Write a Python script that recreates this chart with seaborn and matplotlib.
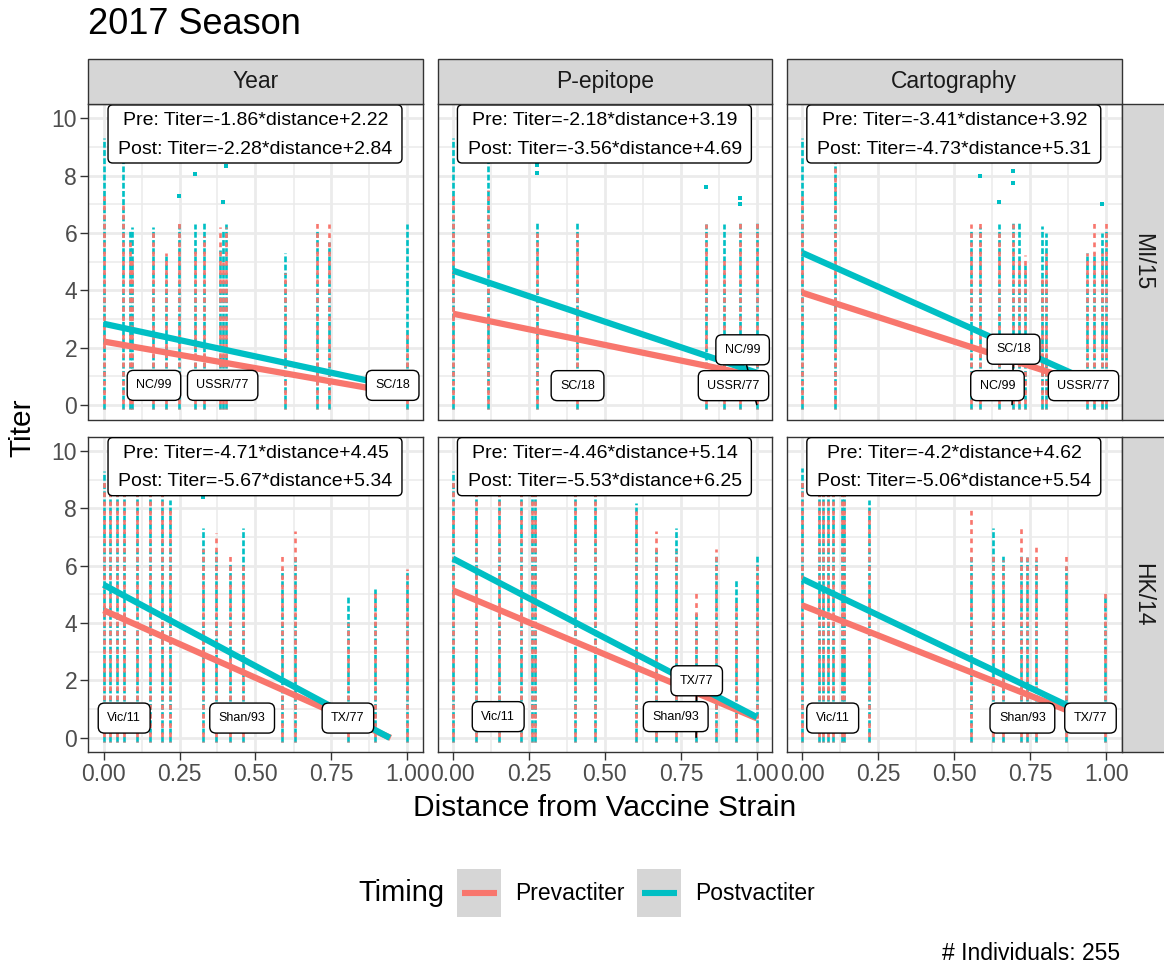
import numpy as np
import pandas as pd
import matplotlib
matplotlib.use("Agg")
import matplotlib.pyplot as plt
import seaborn as sns
from matplotlib.patches import Rectangle, FancyBboxPatch

# ---------------- data ----------------
measures = ["Year", "P-epitope", "Cartography"]
vaccines = ["MI/15", "HK/14"]
timing_levels = ["Prevactiter", "Postvactiter"]

# regression coefficients printed in each panel (row-major: MI/15 row, HK/14 row)
pre_slope = [-1.86, -2.18, -3.41, -4.71, -4.46, -4.2]
pre_int = [2.22, 3.19, 3.92, 4.45, 5.14, 4.62]
post_slope = [-2.28, -3.56, -4.73, -5.67, -5.53, -5.06]
post_int = [2.84, 4.69, 5.31, 5.34, 6.25, 5.54]

# titer columns: distance of each tested strain, highest pre / post titer
yr_mi_x = [0.00, 0.064, 0.086, 0.095, 0.163, 0.207, 0.248, 0.301, 0.330, 0.382, 0.393, 0.402, 0.598, 0.703, 0.742, 1.00]
yr_mi_pre = [7.4, 7.0, 5.8, 5.2, 6.1, 5.3, 6.4, 5.5, 5.9, 6.2, 5.0, 6.2, 4.6, 6.4, 6.3, 2.5]
yr_mi_post = [9.3, 10.0, 6.1, 6.2, 6.2, 5.2, 6.3, 6.3, 6.4, 5.4, 6.1, 6.3, 5.3, 6.1, 5.7, 6.3]

pe_mi_x = [0.00, 0.114, 0.278, 0.407, 0.833, 0.891, 0.946, 1.00]
pe_mi_pre = [7.4, 7.5, 6.0, 6.0, 6.3, 5.2, 6.4, 6.4]
pe_mi_post = [9.3, 10.0, 6.4, 6.4, 6.3, 6.3, 6.4, 6.4]

ca_mi_x = [0.00, 0.107, 0.556, 0.584, 0.646, 0.694, 0.712, 0.734, 0.789, 0.802, 0.937, 0.958, 0.986, 1.00]
ca_mi_pre = [7.3, 10.0, 6.3, 6.35, 6.0, 6.3, 5.2, 5.25, 4.4, 5.3, 5.3, 6.4, 5.3, 6.35]
ca_mi_post = [9.3, 9.0, 6.1, 6.2, 6.3, 6.4, 6.35, 4.9, 6.25, 6.0, 5.3, 5.3, 6.0, 6.1]

yr_hk_x = [0.00, 0.022, 0.044, 0.066, 0.109, 0.153, 0.194, 0.219, 0.327, 0.371, 0.415, 0.458, 0.588, 0.631, 0.803, 0.892, 1.00]
yr_hk_pre = [9.0, 9.5, 9.5, 9.5, 9.0, 9.5, 9.5, 8.0, 6.6, 7.15, 6.4, 6.0, 6.4, 7.2, 4.0, 5.2, 5.9]
yr_hk_post = [9.3, 9.5, 9.5, 9.5, 9.5, 9.5, 9.0, 8.3, 7.3, 6.5, 6.1, 7.3, 5.9, 6.3, 4.9, 5.2, 5.8]

pe_hk_x = [0.00, 0.075, 0.15, 0.223, 0.259, 0.27, 0.402, 0.467, 0.601, 0.669, 0.734, 0.80, 0.866, 0.932, 1.00]
pe_hk_pre = [9.0, 9.5, 9.5, 9.5, 9.5, 9.5, 9.5, 9.5, 7.9, 7.2, 6.5, 5.2, 6.6, 4.8, 6.0]
pe_hk_post = [9.3, 9.5, 9.5, 9.5, 9.5, 9.5, 9.5, 9.5, 8.2, 6.6, 7.3, 4.4, 6.4, 5.5, 6.4]

ca_hk_x = [0.00, 0.056, 0.069, 0.083, 0.10, 0.129, 0.138, 0.22, 0.556, 0.628, 0.661, 0.721, 0.74, 0.77, 0.869, 0.997]
ca_hk_pre = [9.0, 9.5, 9.5, 9.5, 9.5, 9.5, 9.5, 8.0, 8.0, 6.4, 6.2, 7.3, 6.3, 6.7, 6.4, 5.2]
ca_hk_post = [9.4, 9.5, 9.5, 9.5, 9.5, 9.5, 9.5, 8.3, 6.3, 7.3, 6.4, 6.4, 6.3, 6.2, 6.0, 5.0]

# isolated post-vaccination titers above the columns
out_panel = [0, 0, 0, 0, 1, 1, 1, 1, 1, 2, 2, 2, 2, 2, 3]
out_x = [0.248, 0.301, 0.393, 0.402, 0.278, 0.278, 0.833, 0.946, 0.946, 0.584, 0.646, 0.694, 0.694, 0.986, 0.327]
out_y = [7.3, 8.06, 7.1, 8.35, 8.38, 8.1, 7.6, 7.22, 7.0, 8.0, 7.1, 8.15, 7.75, 7.0, 8.39]

# strain labels (repelled label position, and true strain distance when a leader is shown)
strain_panel = [0, 0, 0, 1, 1, 1, 2, 2, 2, 3, 3, 3, 4, 4, 4, 5, 5, 5]
strain_name = ["NC/99", "USSR/77", "SC/18", "SC/18", "USSR/77", "NC/99", "NC/99", "USSR/77", "SC/18",
               "Vic/11", "Shan/93", "TX/77", "Vic/11", "Shan/93", "TX/77", "Vic/11", "Shan/93", "TX/77"]
strain_lx = [0.166, 0.392, 0.951, 0.41, 0.923, 0.953, 0.642, 0.925, 0.695,
             0.068, 0.456, 0.804, 0.149, 0.733, 0.802, 0.10, 0.724, 0.948]
strain_ly = [0.69, 0.69, 0.69, 0.68, 0.68, 1.93, 0.68, 0.68, 1.95,
             0.69, 0.69, 0.69, 0.74, 0.74, 1.99, 0.69, 0.69, 0.69]
strain_dist = [np.nan, np.nan, np.nan, np.nan, np.nan, 1.0, np.nan, np.nan, 0.69,
               np.nan, np.nan, np.nan, np.nan, np.nan, 0.80, np.nan, np.nan, np.nan]

n_individuals = 255

# ---------------- style ----------------
RED = "#F8766D"
TEAL = "#00BFC4"
sns.set_theme(style="whitegrid")
plt.rcParams["font.family"] = ["Liberation Sans", "DejaVu Sans"]
plt.rcParams["lines.solid_capstyle"] = "butt"

W, H = 1164, 969
fig = plt.figure(figsize=(W / 100, H / 100), dpi=100)
fig.patch.set_facecolor("white")


def fx(px):
    return px / W


def fy(py):
    return 1 - py / H


col_left = [88.3, 437.7, 787.1]
panel_w = 334.4
row_top = [104.0, 436.7]
panel_h = 315.5
strip_h = 45.3
STRIP_FC = "#D6D6D6"
DARK = "#333333"

cols_data = [
    (yr_mi_x, yr_mi_pre, yr_mi_post), (pe_mi_x, pe_mi_pre, pe_mi_post), (ca_mi_x, ca_mi_pre, ca_mi_post),
    (yr_hk_x, yr_hk_pre, yr_hk_post), (pe_hk_x, pe_hk_pre, pe_hk_post), (ca_hk_x, ca_hk_pre, ca_hk_post),
]

for r in range(2):
    for c in range(3):
        p = r * 3 + c
        ax = fig.add_axes([fx(col_left[c]), fy(row_top[r] + panel_h), panel_w / W, panel_h / H])
        ax.set_facecolor("white")
        ax.set_xlim(-0.05, 1.05)
        ax.set_ylim(-0.5, 10.5)
        ax.set_xticks([0, 0.25, 0.5, 0.75, 1.0])
        ax.set_xticklabels(["0.00", "0.25", "0.50", "0.75", "1.00"])
        ax.set_xticks([0.125, 0.375, 0.625, 0.875], minor=True)
        ax.set_yticks([0, 2, 4, 6, 8, 10])
        ax.set_yticks([1, 3, 5, 7, 9], minor=True)
        ax.grid(which="major", color="#EBEBEB", linewidth=2.0)
        ax.grid(which="minor", color="#EBEBEB", linewidth=1.1)
        ax.set_axisbelow(True)
        for s in ax.spines.values():
            s.set_visible(True)
            s.set_color(DARK)
            s.set_linewidth(1.0)
        ax.tick_params(which="minor", length=0)
        ax.tick_params(which="major", length=5.5, width=1.0, color=DARK,
                       labelsize=16.5, labelcolor="#4D4D4D", pad=2.5)
        ax.tick_params(axis="x", bottom=(r == 1), labelbottom=(r == 1))
        ax.tick_params(axis="y", left=(c == 0), labelleft=(c == 0))

        xs, pre, post = cols_data[p]
        ax.vlines(xs, -0.15, post, colors=TEAL, linewidth=1.9, linestyles=[(0, (2.2, 0.9))], zorder=2)
        ax.vlines(xs, -0.15, pre, colors=RED, linewidth=1.9, linestyles=[(1.5, (1.8, 1.7))], zorder=2.1)

        ox = [x for q, x in zip(out_panel, out_x) if q == p]
        oy = [y for q, y in zip(out_panel, out_y) if q == p]
        if ox:
            sns.scatterplot(x=ox, y=oy, color=TEAL, marker="s", s=5, linewidth=0, ax=ax, zorder=2.2)

        # regression lines, drawn over the data range and stopped at titer 0
        rows = []
        for lvl, a, b in [("Prevactiter", pre_slope[p], pre_int[p]), ("Postvactiter", post_slope[p], post_int[p])]:
            x_end = min(1.0, -b / a)
            rows.append({"distance": 0.0, "titer": b, "Timing": lvl})
            rows.append({"distance": x_end, "titer": a * x_end + b, "Timing": lvl})
        reg_df = pd.DataFrame(rows)
        sns.lineplot(data=reg_df, x="distance", y="titer", hue="Timing", hue_order=timing_levels,
                     palette=[RED, TEAL], linewidth=4.5, estimator=None, sort=False,
                     legend=False, ax=ax, zorder=3)
        ax.set_xlabel("")
        ax.set_ylabel("")

        # strain labels
        for q, nm, lx, ly, sd in zip(strain_panel, strain_name, strain_lx, strain_ly, strain_dist):
            if q == p and not np.isnan(sd):
                ax.plot([lx, sd], [ly, 0], color="black", linewidth=1.1, zorder=4)
        for q, nm, lx, ly, sd in zip(strain_panel, strain_name, strain_lx, strain_ly, strain_dist):
            if q != p:
                continue
            ax.text(lx, ly, nm, ha="center", va="center", fontsize=9, color="black", zorder=5,
                    bbox=dict(boxstyle="round,pad=0.72,rounding_size=0.5", fc="white", ec="black", lw=1.0))

        # equation label box
        box = FancyBboxPatch((0.059, 0.813), 0.879, 0.184, transform=ax.transAxes,
                             boxstyle="round,pad=0,rounding_size=0.014", mutation_aspect=334.4 / 315.5,
                             fc="white", ec="black", lw=1.0, zorder=6)
        ax.add_patch(box)
        ax.text(0.5, 0.947, f"Pre: Titer={pre_slope[p]}*distance+{pre_int[p]}", transform=ax.transAxes,
                ha="center", va="center", fontsize=14, color="black", zorder=7)
        ax.text(0.5, 0.857, f"Post: Titer={post_slope[p]}*distance+{post_int[p]}", transform=ax.transAxes,
                ha="center", va="center", fontsize=14, color="black", zorder=7)

# top strips
for c in range(3):
    fig.patches.append(Rectangle((fx(col_left[c]), fy(row_top[0])), panel_w / W, strip_h / H,
                                 transform=fig.transFigure, fc=STRIP_FC, ec=DARK, lw=1.0, zorder=1))
    fig.text(fx(col_left[c] + panel_w / 2), fy(row_top[0] - strip_h / 2), measures[c],
             ha="center", va="center", fontsize=16.5, color="#1A1A1A")
# right strips
right_x = col_left[2] + panel_w
for r in range(2):
    fig.patches.append(Rectangle((fx(right_x), fy(row_top[r] + panel_h)), 46 / W, panel_h / H,
                                 transform=fig.transFigure, fc=STRIP_FC, ec=DARK, lw=1.0, zorder=1))
    fig.text(fx(right_x + 21), fy(row_top[r] + panel_h / 2), vaccines[r],
             ha="center", va="center", rotation=-90, fontsize=16.5, color="#1A1A1A")

# titles
fig.text(fx(88), fy(24), "2017 Season", ha="left", va="center", fontsize=26, color="black")
fig.text(fx(604.5), fy(807.5), "Distance from Vaccine Strain", ha="center", va="center",
         fontsize=21.5, color="black")
fig.text(fx(22.5), fy(428), "Titer", ha="center", va="center", rotation=90, fontsize=21.5, color="black")

# legend
fig.text(fx(358), fy(893), "Timing", ha="left", va="center", fontsize=21, color="black")
for kx, lbl, colr in [(457.3, "Prevactiter", RED), (637.3, "Postvactiter", TEAL)]:
    fig.patches.append(Rectangle((fx(kx), fy(916.7)), 43.7 / W, 47.4 / H, transform=fig.transFigure,
                                 fc=STRIP_FC, ec="none", zorder=1))
    fig.lines.append(plt.Line2D([fx(kx + 4.4), fx(kx + 39.4)], [fy(893), fy(893)], transform=fig.transFigure,
                                color=colr, linewidth=4.4, solid_capstyle="butt", zorder=2))
    fig.text(fx(kx + 57.7), fy(893), lbl, ha="left", va="center", fontsize=16.5, color="black")

fig.text(fx(1120), fy(954), f"# Individuals: {n_individuals}", ha="right", va="center",
         fontsize=16.5, color="black")

fig.savefig("out.png", dpi=100, facecolor="white")
